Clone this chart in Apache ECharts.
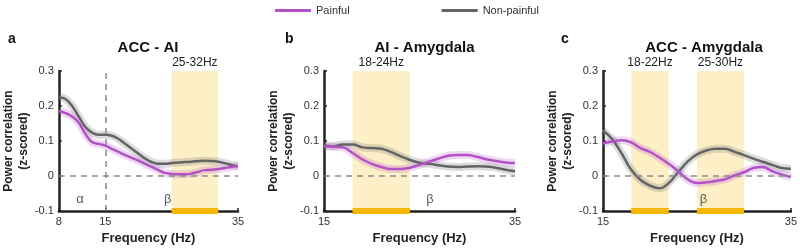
<!DOCTYPE html>
<html>
<head>
<meta charset="utf-8">
<script src="https://cdn.jsdelivr.net/npm/echarts@6/dist/echarts.min.js"></script>
<style>
  html, body { margin: 0; padding: 0; background: #fff; }
  #main { width: 800px; height: 250px; }
</style>
</head>
<body>
<div id="main"></div>
<script>
// 频率轴
const freqA = [8, 9, 10, 11, 12, 13, 14, 15, 16, 17, 18, 19, 20, 21, 22, 23, 24, 25, 26, 27, 28, 29, 30, 31, 32, 33, 34, 35];
const freqBC = [15, 16, 17, 18, 19, 20, 21, 22, 23, 24, 25, 26, 27, 28, 29, 30, 31, 32, 33, 34, 35];

// a: ACC - AI
const painA = [0.186, 0.18, 0.17, 0.152, 0.12, 0.097, 0.092, 0.087, 0.078, 0.069, 0.06, 0.052, 0.044, 0.035, 0.026, 0.017, 0.009, 0.006, 0.005, 0.005, 0.007, 0.012, 0.017, 0.018, 0.02, 0.023, 0.026, 0.028];
const nonA = [0.225, 0.22, 0.2, 0.17, 0.14, 0.124, 0.118, 0.118, 0.115, 0.106, 0.092, 0.078, 0.064, 0.05, 0.04, 0.035, 0.035, 0.037, 0.039, 0.04, 0.041, 0.043, 0.044, 0.043, 0.041, 0.037, 0.032, 0.028];
// b: AI - Amygdala
const painB = [0.085, 0.084, 0.082, 0.066, 0.048, 0.035, 0.026, 0.02, 0.02, 0.024, 0.032, 0.041, 0.05, 0.058, 0.06, 0.06, 0.055, 0.048, 0.043, 0.039, 0.037];
const nonB = [0.087, 0.085, 0.09, 0.09, 0.082, 0.08, 0.078, 0.069, 0.057, 0.046, 0.038, 0.035, 0.031, 0.027, 0.026, 0.027, 0.028, 0.027, 0.024, 0.018, 0.014];
// c: ACC - Amygdala
const painC = [0.093, 0.099, 0.102, 0.096, 0.08, 0.069, 0.053, 0.035, 0.014, -0.009, -0.02, -0.018, -0.014, -0.009, 0.002, 0.011, 0.023, 0.026, 0.014, 0.005, -0.003];
const nonC = [0.13, 0.105, 0.064, 0.018, -0.011, -0.027, -0.035, -0.02, 0.011, 0.041, 0.062, 0.073, 0.078, 0.078, 0.069, 0.06, 0.05, 0.041, 0.032, 0.023, 0.021];

// 显著频段
const bandsA = [[25, 32]];
const bandsB = [[18, 24]];
const bandsC = [[18, 22], [25, 30]];

// 刻度
const xTicksA = [8, 15, 35];
const xTicksBC = [15, 35];

// 频段标注 (α / β)
const greekA = [[11.2, -0.066, 'α'], [24.4, -0.066, 'β']];
const greekB = [[26.1, -0.066, 'β']];
const greekC = [[25.7, -0.066, 'β']];

const titles = ['ACC - AI', 'AI - Amygdala', 'ACC - Amygdala'];
const letters = ['a', 'b', 'c'];

const PURPLE = '#b352c6';
const GRAY = '#646464';
const FONT = 'Liberation Sans, Arial, sans-serif';

const grids = [
  { left: 48, width: 190, top: 71, height: 145 },
  { left: 324, width: 191, top: 71, height: 145 },
  { left: 603, width: 192, top: 71, height: 145 }
];

const panels = [
  { freq: freqA, pain: painA, non: nonA, bands: bandsA, xTicks: xTicksA, min: 8, greek: greekA, vline: 15 },
  { freq: freqBC, pain: painB, non: nonB, bands: bandsB, xTicks: xTicksBC, min: 15, greek: greekB },
  { freq: freqBC, pain: painC, non: nonC, bands: bandsC, xTicks: xTicksBC, min: 15, greek: greekC }
];

const xAxis = [], yAxis = [], series = [], titleList = [];

panels.forEach((p, i) => {
  xAxis.push({
    gridIndex: i, type: 'value', min: p.min, max: 35,
    name: 'Frequency (Hz)', nameLocation: 'middle', nameGap: 20,
    nameTextStyle: { fontFamily: FONT, fontWeight: 'bold', fontSize: 13, color: '#222' },
    axisLine: { onZero: false, lineStyle: { color: '#222', width: 2.5 } },
    axisTick: { show: true, inside: true, length: 3, customValues: p.xTicks, lineStyle: { color: '#222', width: 1.5 } },
    axisLabel: { customValues: p.xTicks, margin: 5, fontFamily: FONT, fontSize: 11, color: '#333' },
    splitLine: { show: false }
  });
  yAxis.push({
    gridIndex: i, type: 'value', min: -0.1, max: 0.3, interval: 0.1,
    name: 'Power correlation\n(z-scored)', nameLocation: 'middle', nameGap: 22,
    nameTextStyle: { fontFamily: FONT, fontWeight: 'bold', fontSize: 12, color: '#222', lineHeight: 15 },
    axisLine: { show: true, onZero: false, lineStyle: { color: '#222', width: 2.5 } },
    axisTick: { show: true, inside: true, length: 3, lineStyle: { color: '#222', width: 1.5 } },
    axisLabel: { margin: 5, fontFamily: FONT, fontSize: 11, color: '#333', formatter: v => String(+v.toFixed(1)) },
    splitLine: { show: false }
  });

  const base = { xAxisIndex: i, yAxisIndex: i, type: 'line', symbol: 'none', smooth: 0.4, silent: true };
  const nonData = p.freq.map((f, k) => [f, p.non[k]]);
  const painData = p.freq.map((f, k) => [f, p.pain[k]]);

  // 阴影频段 + 零线 (+ 竖线)
  const mlData = [{ yAxis: 0 }];
  if (p.vline) mlData.push({ xAxis: p.vline });
  series.push({
    ...base, name: 'bands', data: [], z: 1,
    markArea: {
      silent: true,
      itemStyle: { color: '#fdefc6' },
      label: { show: true, position: 'top', distance: 2, fontFamily: FONT, fontSize: 12, color: '#222' },
      data: p.bands.map(b => [{ xAxis: b[0], name: b[0] + '-' + b[1] + 'Hz' }, { xAxis: b[1] }])
    },
    markLine: {
      silent: true, symbol: 'none', label: { show: false },
      lineStyle: { color: '#8a8a8a', type: [6, 5], width: 1.5 },
      data: mlData
    }
  });

  // 误差带 (宽半透明线)
  series.push({ ...base, name: 'semNon', data: nonData, z: 2, lineStyle: { color: GRAY, width: 8, opacity: 0.22 } });
  series.push({ ...base, name: 'semPain', data: painData, z: 2, lineStyle: { color: PURPLE, width: 8, opacity: 0.22 } });
  series.push({ ...base, name: 'Non-painful', data: nonData, z: 3, lineStyle: { color: GRAY, width: 2.5 }, itemStyle: { color: GRAY } });
  series.push({ ...base, name: 'Painful', data: painData, z: 3, lineStyle: { color: PURPLE, width: 2.5 }, itemStyle: { color: PURPLE } });

  // x 轴上的显著频段标记
  p.bands.forEach(b => {
    series.push({
      ...base, name: 'sig', smooth: false, z: 10,
      data: [[b[0], -0.1], [b[1], -0.1]],
      lineStyle: { color: '#f5b800', width: 6, cap: 'butt' }
    });
  });

  // α / β 文字
  series.push({
    xAxisIndex: i, yAxisIndex: i, type: 'scatter', name: 'greek', silent: true,
    symbolSize: 1, itemStyle: { color: 'transparent' },
    data: p.greek.map(g => ({ value: [g[0], g[1]], label: { formatter: g[2] } })),
    label: { show: true, position: 'inside', fontFamily: FONT, fontSize: 13, color: '#333' }
  });

  titleList.push({
    text: titles[i], left: grids[i].left + grids[i].width / 2, top: 35, textAlign: 'center',
    textStyle: { fontFamily: FONT, fontWeight: 'bold', fontSize: 15, color: '#111' }
  });
});

titleList.push(
  { text: letters[0], left: 3, top: 27, textStyle: { fontFamily: FONT, fontWeight: 'bold', fontSize: 14, color: '#111' } },
  { text: letters[1], left: 280, top: 27, textStyle: { fontFamily: FONT, fontWeight: 'bold', fontSize: 14, color: '#111' } },
  { text: letters[2], left: 556, top: 27, textStyle: { fontFamily: FONT, fontWeight: 'bold', fontSize: 14, color: '#111' } }
);

const myChart = echarts.init(document.getElementById('main'));
myChart.setOption({
  animation: false,
  title: titleList,
  legend: {
    data: [
      { name: 'Painful', itemStyle: { color: PURPLE } },
      { name: 'Non-painful', itemStyle: { color: GRAY } }
    ],
    left: 270, top: 0, itemWidth: 36, itemHeight: 3, itemGap: 92,
    icon: 'rect',
    textStyle: { fontFamily: FONT, fontSize: 11, color: '#333' }
  },
  grid: grids,
  xAxis: xAxis,
  yAxis: yAxis,
  series: series
});
</script>
</body>
</html>
